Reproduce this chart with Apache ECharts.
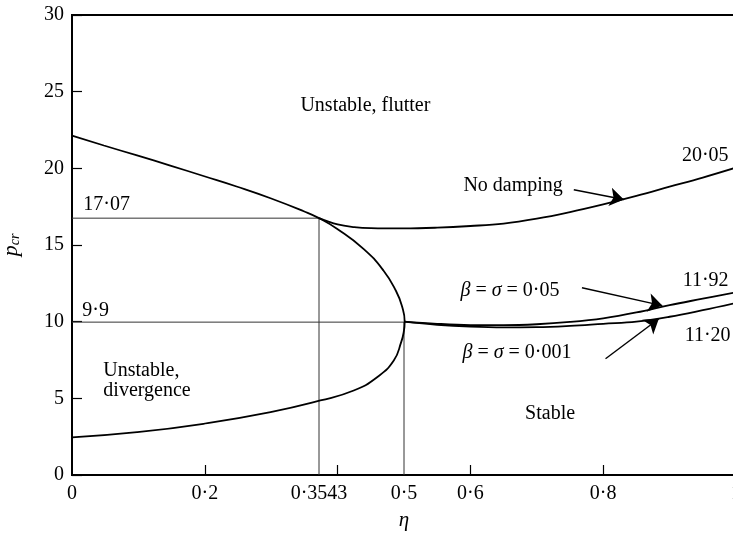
<!DOCTYPE html>
<html>
<head>
<meta charset="utf-8">
<script src="https://cdn.jsdelivr.net/npm/echarts@6/dist/echarts.min.js"></script>
<style>
html,body{margin:0;padding:0;background:#fff;}
#chart{width:733px;height:534px;}
</style>
</head>
<body>
<div id="chart"></div>
<script>
// ---- data ----
// flutter / divergence boundary (sideways curve), points in drawing order
var boundaryEta = [0, 0.048, 0.098, 0.148, 0.198, 0.249, 0.299, 0.349, 0.372, 0.399, 0.439, 0.469, 0.488, 0.497, 0.501, 0.4995, 0.496, 0.4846, 0.4595, 0.4243, 0.374, 0.299, 0.198, 0.098, 0];
var boundaryP   = [22.14, 21.49, 20.84, 20.18, 19.5, 18.8, 18.05, 17.2, 16.75, 16.06, 14.75, 13.34, 12.0, 11.0, 10.0, 9.3, 8.7, 7.47, 6.38, 5.51, 4.86, 4.10, 3.34, 2.79, 2.45];
// no damping curve
var noDampEta = [0.372, 0.40, 0.425, 0.45, 0.5, 0.55, 0.6, 0.65, 0.7, 0.75, 0.8, 0.85, 0.9, 0.95, 1.0];
var noDampP   = [16.75, 16.34, 16.17, 16.1, 16.08, 16.13, 16.24, 16.4, 16.72, 17.15, 17.65, 18.2, 18.8, 19.4, 20.05];
// damped curves
var dampEta = [0.5, 0.55, 0.6, 0.65, 0.7, 0.75, 0.8, 0.85, 0.9, 0.95, 1.0];
var damp005P  = [10.0, 9.86, 9.78, 9.77, 9.83, 9.98, 10.22, 10.6, 11.08, 11.5, 11.92];
var damp0001P = [10.0, 9.8, 9.68, 9.63, 9.64, 9.72, 9.86, 10.0, 10.32, 10.75, 11.22];
// reference lines
var etaCross = 0.372, pCross = 16.75;
var etaVertex = 0.5, pVertex = 9.97;
// tick labels
var yTicks = [0, 5, 10, 15, 20, 25, 30];
var xTickMarks = [0.2, 0.4, 0.6, 0.8];
var xLabelVals  = [0, 0.2, 0.372, 0.5, 0.6, 0.8, 1];
var xLabelTexts = ['0', '0·2', '0·3543', '0·5', '0·6', '0·8', '1'];
// arrows [from, to]
var arrows = [
  [[0.7557, 18.60], [0.8311, 17.97]],
  [[0.768, 12.21], [0.889, 11.05]],
  [[0.8035, 7.58], [0.8838, 10.19]]
];
// annotations: [eta, P, text, align]
var notes = [
  [0.344, 24.1, 'Unstable, flutter', 'left'],
  [0.5895, 18.88, 'No damping', 'left'],
  [0.9888, 20.84, '20·05', 'right'],
  [0.0171, 17.64, '17·07', 'left'],
  [0.0156, 10.73, '9·9', 'left'],
  [0.585, 12.03, '{g|β} = {g|σ} = 0·05', 'left'],
  [0.588, 7.99, '{g|β} = {g|σ} = 0·001', 'left'],
  [0.9888, 12.68, '11·92', 'right'],
  [0.9918, 9.10, '11·20', 'right'],
  [0.0472, 6.17, 'Unstable,\ndivergence', 'left'],
  [0.72, 4.01, 'Stable', 'center']
];

function zip(a, b) { return a.map(function (v, i) { return [v, b[i]]; }); }

var FONT = '"Liberation Serif", "DejaVu Serif", serif';
var chart = echarts.init(document.getElementById('chart'));
var lineStyleMain = { color: '#000', width: 1.8 };
var option = {
  backgroundColor: '#fff',
  animation: false,
  grid: { left: 72, top: 15, width: 664, height: 460, outerBoundsMode: 'none', containLabel: false,
          show: true, borderColor: '#000', borderWidth: 2, backgroundColor: 'transparent' },
  xAxis: {
    type: 'value', min: 0, max: 1,
    name: 'η', nameLocation: 'middle', nameGap: 35,
    nameTextStyle: { fontFamily: FONT, fontSize: 21, fontStyle: 'italic', color: '#000' },
    axisLine: { show: true, lineStyle: { color: '#000', width: 2 } },
    axisTick: { show: true, inside: true, length: 10, customValues: xTickMarks, lineStyle: { color: '#000', width: 1.2 } },
    axisLabel: {
      customValues: xLabelVals, margin: 9, hideOverlap: false,
      fontFamily: FONT, fontSize: 20, color: '#000',
      formatter: function (v) {
        var best = 0;
        for (var i = 0; i < xLabelVals.length; i++) if (Math.abs(xLabelVals[i] - v) < Math.abs(xLabelVals[best] - v)) best = i;
        return xLabelTexts[best];
      }
    },
    splitLine: { show: false }
  },
  yAxis: {
    type: 'value', min: 0, max: 30, interval: 5,
    name: '{i|p}{s|cr}', nameLocation: 'middle', nameGap: 50, nameRotate: 90,
    nameTextStyle: {
      color: '#000',
      rich: {
        i: { fontFamily: FONT, fontSize: 22, fontStyle: 'italic', color: '#000' },
        s: { fontFamily: FONT, fontSize: 14, fontStyle: 'italic', color: '#000', padding: [8, 0, 0, 0] }
      }
    },
    axisLine: { show: true, lineStyle: { color: '#000', width: 2 } },
    axisTick: { show: true, inside: true, length: 10, lineStyle: { color: '#000', width: 1.2 } },
    axisLabel: { margin: 8, fontFamily: FONT, fontSize: 20, color: '#000' },
    splitLine: { show: false }
  },
  series: [
    { type: 'line', data: zip(boundaryEta, boundaryP), showSymbol: false, smooth: 0.5, lineStyle: lineStyleMain, z: 5 },
    { type: 'line', data: zip(noDampEta, noDampP), showSymbol: false, smooth: 0.4, lineStyle: lineStyleMain, z: 5 },
    { type: 'line', data: zip(dampEta, damp005P), showSymbol: false, smooth: 0.4, lineStyle: lineStyleMain, z: 5 },
    { type: 'line', data: zip(dampEta, damp0001P), showSymbol: false, smooth: 0.4, lineStyle: lineStyleMain, z: 5 },
    { type: 'line', data: [[0, pCross], [etaCross, pCross], [etaCross, 0]], showSymbol: false, lineStyle: { color: '#333', width: 1 }, z: 3 },
    { type: 'line', data: [[0, pVertex], [etaVertex, pVertex], [etaVertex, 0]], showSymbol: false, lineStyle: { color: '#333', width: 1 }, z: 3 },
    {
      type: 'lines', coordinateSystem: 'cartesian2d',
      symbol: ['none', 'arrow'], symbolSize: [8, 14],
      lineStyle: { color: '#000', width: 1.4, opacity: 1 },
      itemStyle: { color: '#000' },
      data: arrows.map(function (a) { return { coords: a }; }), z: 6
    }
  ]
};
chart.setOption(option);

var g = notes.map(function (n) {
  var p = chart.convertToPixel({ xAxisIndex: 0, yAxisIndex: 0 }, [n[0], n[1]]);
  return {
    type: 'text', x: p[0], y: p[1], z: 10,
    style: {
      text: n[2], fontFamily: FONT, fontSize: 20, fill: '#000', lineHeight: 20,
      align: n[3], verticalAlign: 'middle',
      rich: { g: { fontFamily: FONT, fontSize: 20, fontStyle: 'italic', fill: '#000' } }
    }
  };
});
chart.setOption({ graphic: g });
</script>
</body>
</html>
